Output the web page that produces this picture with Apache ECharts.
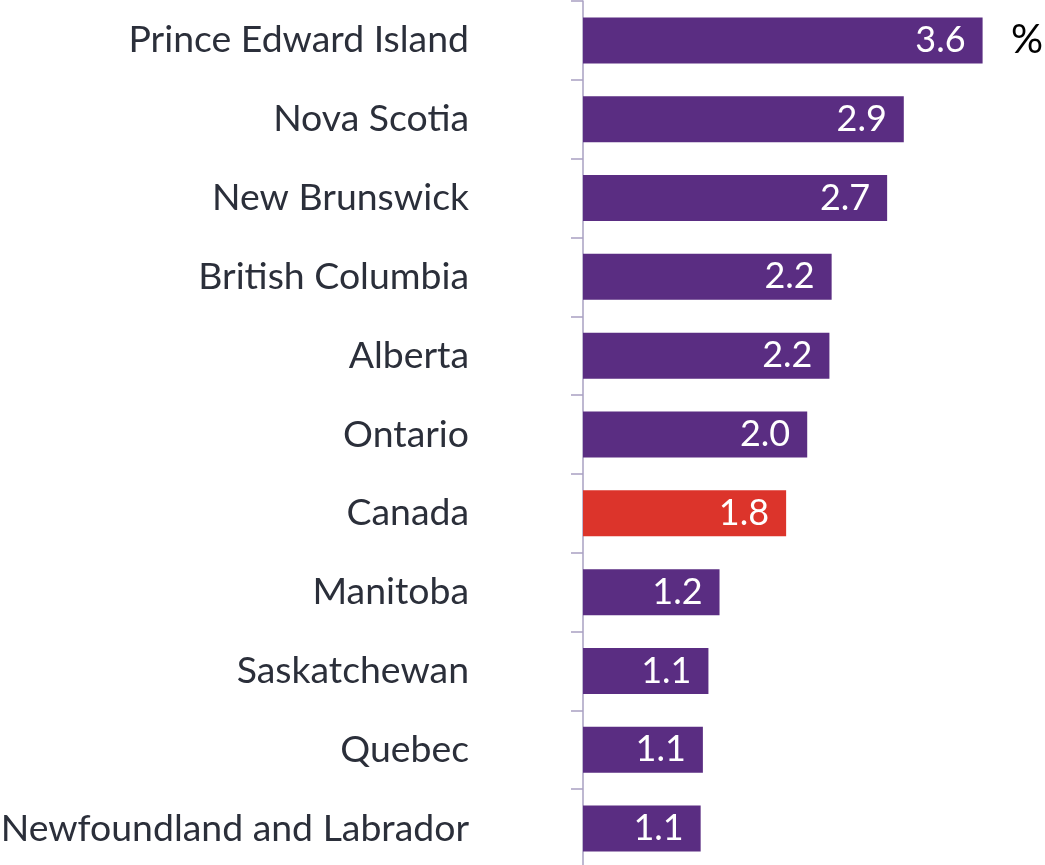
<!DOCTYPE html>
<html lang="en">
<head>
    <meta charset="UTF-8">
    <title>Bar chart by province</title>
    <script type="text/javascript" src="https://cdn.jsdelivr.net/npm/echarts@6/dist/echarts.min.js"></script>
    <style>
        html, body { margin: 0; padding: 0; background: #fff; }
    </style>
</head>
<body>
<div id="bar" style="width: 1045px;height:865px;"></div>
<script>
    var provinces = ['Prince Edward Island', 'Nova Scotia', 'New Brunswick', 'British Columbia', 'Alberta',
        'Ontario', 'Canada', 'Manitoba', 'Saskatchewan', 'Quebec', 'Newfoundland and Labrador'];
    var values = [3.6, 2.89, 2.74, 2.24, 2.22, 2.02, 1.83, 1.23, 1.13, 1.08, 1.06];
    var highlight = 'Canada';

    var purple = '#5A2D82';
    var red = '#DC342B';

    var option = {
        animation: false,
        grid: {
            left: 583,
            width: 444,
            top: 1,
            height: 867,
            containLabel: false,
            outerBoundsMode: 'none'
        },
        xAxis: {
            type: 'value',
            min: 0,
            max: 4,
            show: false
        },
        yAxis: {
            type: 'category',
            inverse: true,
            data: provinces,
            axisLine: {
                show: true,
                lineStyle: { color: '#A9A0C2', width: 1.5 }
            },
            axisTick: {
                show: true,
                length: 12,
                lineStyle: { color: '#A9A0C2', width: 1.5 }
            },
            axisLabel: {
                margin: 114,
                fontFamily: 'Lato',
                fontSize: 37.4,
                color: '#2B2F3A'
            }
        },
        graphic: [{
            type: 'text',
            right: 2,
            top: 20,
            style: {
                text: '%',
                font: '40px Lato',
                fill: '#000'
            }
        }],
        series: [{
            type: 'bar',
            barWidth: 46,
            data: values.map(function (v, i) {
                return {
                    value: v,
                    itemStyle: { color: provinces[i] === highlight ? red : purple }
                };
            }),
            label: {
                show: true,
                position: 'insideRight',
                distance: 17,
                fontFamily: 'Lato',
                fontSize: 36,
                color: '#fff',
                formatter: function (p) {
                    return p.value.toFixed(1);
                }
            }
        }]
    };

    var myChart = echarts.init(document.getElementById('bar'));
    myChart.setOption(option);
</script>
</body>
</html>
